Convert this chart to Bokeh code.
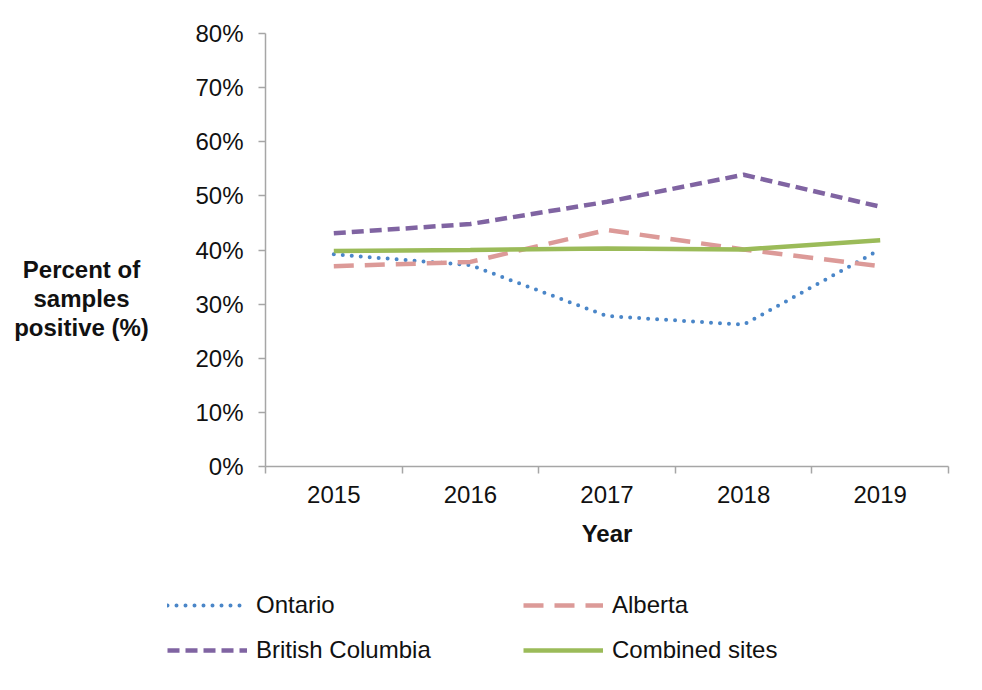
from bokeh.plotting import figure
from bokeh.models import FixedTicker, PrintfTickFormatter, Legend, LegendItem, Range1d
from bokeh.layouts import column, row
from bokeh.core.properties import value
from bokeh.embed import file_html
from bokeh.resources import INLINE

years = [2015, 2016, 2017, 2018, 2019]
ontario = [39.2, 37.2, 27.8, 26.2, 40.1]
alberta = [37.0, 37.8, 43.7, 40.1, 37.0]
british_columbia = [43.1, 44.8, 48.9, 53.9, 48.0]
combined = [39.8, 40.0, 40.3, 40.1, 41.8]
y_ticks = [0, 10, 20, 30, 40, 50, 60, 70, 80]
y_label_lines = ["Percent of", "samples", "positive (%)"]
x_label = "Year"

FONT = "Liberation Sans"
AX = "#a6a6a6"
TXT = "#111111"

STYLES = {
    "Ontario": dict(line_color="#4a86c8", line_width=4, line_dash="0 9", line_cap="round"),
    "Alberta": dict(line_color="#dc9a98", line_width=4.5, line_dash="20 11"),
    "British Columbia": dict(line_color="#8064a2", line_width=4.5, line_dash="12 6"),
    "Combined sites": dict(line_color="#9bbb59", line_width=4.5),
}
SERIES = {"Ontario": ontario, "Alberta": alberta,
          "British Columbia": british_columbia, "Combined sites": combined}

LW, TOPH = 150, 560
FRAME_TOP, FRAME_BOTTOM = 33, 466


def blank(w, h, xr, yr):
    f = figure(width=w, height=h, title=None, output_backend="svg", toolbar_location=None,
               x_range=Range1d(*xr), y_range=Range1d(*yr),
               x_axis_type=None, y_axis_type=None,
               min_border=0, min_border_left=0, min_border_right=0,
               min_border_top=0, min_border_bottom=0)
    f.grid.visible = False
    f.outline_line_color = None
    return f


# ---- left strip holding the y-axis title (its frame lines up with the chart frame) ----
ylab = blank(LW, TOPH, (0, LW), (FRAME_BOTTOM, FRAME_TOP))
ylab.text(x=[81, 81, 81], y=[269, 298, 327], text=y_label_lines,
          text_font=value(FONT), text_font_size="24px", text_font_style="bold",
          text_align="center", text_baseline="middle", text_color=TXT)

# ---- main chart ----
p = figure(width=975 - LW, height=TOPH, output_backend="svg", toolbar_location=None,
           x_range=Range1d(years[0] - 0.5, years[-1] + 0.5), y_range=Range1d(0, 80),
           min_border_left=265 - LW, min_border_right=27, min_border_top=FRAME_TOP,
           min_border_bottom=TOPH - FRAME_BOTTOM)
p.outline_line_color = None
p.xgrid.visible = False
p.ygrid.visible = False

for name in ["Ontario", "Alberta", "British Columbia", "Combined sites"]:
    p.line(years, SERIES[name], **STYLES[name])

xa = p.xaxis[0]
xa.ticker = FixedTicker(ticks=years, minor_ticks=[y - 0.5 for y in years] + [years[-1] + 0.5])
xa.major_tick_line_color = None
xa.major_tick_out = 0
xa.major_tick_in = 0
xa.minor_tick_in = 0
xa.minor_tick_out = 7
xa.minor_tick_line_color = AX
xa.minor_tick_line_width = 1.5
xa.axis_line_color = AX
xa.axis_line_width = 1.5
xa.major_label_text_font = FONT
xa.major_label_text_font_size = "24px"
xa.major_label_text_color = TXT
xa.major_label_standoff = 12
xa.axis_label = x_label
xa.axis_label_text_font = FONT
xa.axis_label_text_font_size = "24px"
xa.axis_label_text_font_style = "bold"
xa.axis_label_text_color = TXT
xa.axis_label_standoff = 14

ya = p.yaxis[0]
ya.ticker = FixedTicker(ticks=y_ticks, minor_ticks=[])
ya.formatter = PrintfTickFormatter(format="%d%%")
ya.major_tick_in = 0
ya.major_tick_out = 7
ya.major_tick_line_color = AX
ya.major_tick_line_width = 1.5
ya.minor_tick_line_color = None
ya.axis_line_color = AX
ya.axis_line_width = 1.5
ya.major_label_text_font = FONT
ya.major_label_text_font_size = "24px"
ya.major_label_text_color = TXT
ya.major_label_standoff = 15

# ---- legend strip ----
LH = 125
leg = blank(975, LH, (0, 1), (0, 1))
lr = {name: leg.line(years, SERIES[name], **STYLES[name]) for name in SERIES}


def mk_legend(names, x):
    lg = Legend(items=[LegendItem(label=n, renderers=[lr[n]]) for n in names],
                location=(x, 21), orientation="vertical",
                glyph_width=80, glyph_height=24, label_height=24, spacing=17,
                label_standoff=9, padding=0, margin=0,
                label_text_font=FONT, label_text_font_size="24px", label_text_color=TXT,
                border_line_color=None, background_fill_alpha=0)
    leg.add_layout(lg, "center")


mk_legend(["Ontario", "British Columbia"], 167)
mk_legend(["Alberta", "Combined sites"], 523)

layout = column(row(ylab, p, spacing=0), leg, spacing=0)
open("out.html", "w").write(file_html(layout, INLINE))
